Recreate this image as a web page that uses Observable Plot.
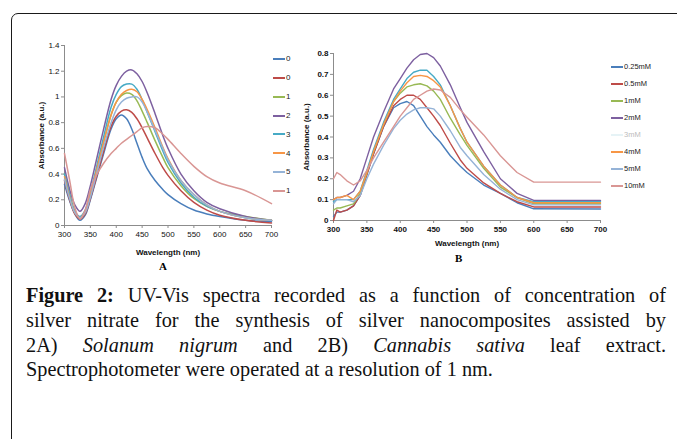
<!DOCTYPE html>
<html>
<head>
<meta charset="utf-8">
<script src="https://cdn.jsdelivr.net/npm/d3@7"></script>
<script src="https://cdn.jsdelivr.net/npm/@observablehq/plot@0.6"></script>
<style>
  body { margin:0; background:#fff; width:677px; height:439px; overflow:hidden; position:relative; font-family: Arial, "Liberation Sans", sans-serif; }
  .abs { position:absolute; }
  #frame { left:11px; top:13px; width:720px; height:480px; border:1.5px solid #1a1a1a; border-radius:7px 0 0 0; }
  .leg { position:absolute; font: 8px "Liberation Sans", Arial, sans-serif; color:#222; white-space:nowrap; }
  .leg .sw { display:inline-block; width:12px; height:2px; vertical-align:middle; margin-right:1px; }
  .panel-label { position:absolute; font: bold 11px "Liberation Serif", serif; }
  #caption { left:26px; top:283px; width:640px; font: 20.3px "Liberation Serif", "Times New Roman", serif; line-height:24.8px; color:#111; }
  #caption .ln { text-align: justify; text-align-last: justify; white-space: nowrap; }
  #caption .ln.last { text-align-last: left; }
</style>
</head>
<body>
<div id="frame" class="abs"></div>
<div id="chartA" class="abs" style="left:20px;top:35px"></div>
<div id="chartB" class="abs" style="left:300px;top:35px"></div>
<div id="legA" class="abs" style="left:273px;top:0;width:24px;height:280px"></div>
<div id="legB" class="abs" style="left:611px;top:0;width:66px;height:280px"></div>
<div class="panel-label" style="left:159px;top:260px">A</div>
<div class="panel-label" style="left:455px;top:252px">B</div>
<div id="caption" class="abs">
  <div class="ln"><b>Figure 2:</b> UV-Vis spectra recorded as a function of concentration of</div>
  <div class="ln">silver nitrate for the synthesis of silver nanocomposites assisted by</div>
  <div class="ln">2A) <i>Solanum nigrum</i> and 2B) <i>Cannabis sativa</i> leaf extract.</div>
  <div class="ln last">Spectrophotometer were operated at a resolution of 1 nm.</div>
</div>
<script>
// ---------- data ----------
const concentrations = ["0.25mM","0.5mM","1mM","2mM","3mM","4mM","5mM","10mM"];
// panel A's legend is cut by panel B in the figure: only its first characters show
const legendLabelsA = ["0","0","1","2","3","4","5","1"];
const seriesColors = ["#4A7EBB","#BE4B48","#98B954","#7D60A0","#46AAC5","#F79646","#95B3D7","#D99694"];

// Panel A (Solanum nigrum)
const wavelengthA = [300,310,320,330,340,350,360,375,390,400,410,420,430,440,450,460,475,490,500,525,550,575,600,650,700];
const absA_025 = [0.32,0.19,0.09,0.04,0.08,0.20,0.34,0.55,0.75,0.83,0.86,0.83,0.75,0.64,0.53,0.44,0.35,0.28,0.24,0.17,0.12,0.09,0.07,0.04,0.03];
const absA_05  = [0.35,0.20,0.09,0.05,0.09,0.21,0.35,0.57,0.77,0.85,0.89,0.90,0.88,0.83,0.76,0.68,0.56,0.45,0.39,0.27,0.18,0.12,0.08,0.04,0.02];
const absA_1   = [0.40,0.24,0.11,0.06,0.11,0.24,0.40,0.64,0.86,0.96,1.01,1.03,1.02,0.97,0.89,0.80,0.66,0.53,0.45,0.31,0.21,0.15,0.11,0.07,0.04];
const absA_2   = [0.45,0.28,0.16,0.11,0.17,0.31,0.48,0.74,0.98,1.09,1.16,1.20,1.21,1.18,1.12,1.03,0.87,0.70,0.60,0.40,0.27,0.18,0.13,0.07,0.04];
const absA_3   = [0.40,0.24,0.11,0.07,0.12,0.26,0.42,0.68,0.92,1.02,1.08,1.10,1.10,1.06,0.98,0.88,0.73,0.58,0.49,0.33,0.22,0.15,0.11,0.06,0.04];
const absA_4   = [0.38,0.22,0.10,0.06,0.11,0.24,0.40,0.64,0.86,0.96,1.02,1.05,1.06,1.04,0.98,0.90,0.76,0.61,0.52,0.35,0.24,0.16,0.11,0.06,0.04];
const absA_5   = [0.36,0.21,0.10,0.06,0.10,0.22,0.37,0.60,0.80,0.90,0.96,0.99,1.00,1.00,0.96,0.88,0.74,0.60,0.51,0.35,0.24,0.16,0.11,0.06,0.04];
const absA_10  = [0.56,0.35,0.14,0.05,0.12,0.28,0.38,0.48,0.56,0.60,0.64,0.67,0.70,0.73,0.76,0.77,0.76,0.71,0.67,0.56,0.46,0.38,0.33,0.27,0.17];

// Panel B (Cannabis sativa)
const wavelengthB = [300,305,310,320,330,340,350,360,375,390,400,410,420,430,440,450,460,475,490,500,525,550,575,600,700];
const absB_025 = [0.02,0.04,0.04,0.05,0.07,0.12,0.22,0.32,0.45,0.54,0.56,0.57,0.55,0.50,0.45,0.41,0.375,0.31,0.26,0.23,0.17,0.13,0.085,0.056,0.055];
const absB_05  = [0.00,0.05,0.04,0.05,0.07,0.12,0.22,0.32,0.45,0.55,0.58,0.60,0.60,0.58,0.54,0.50,0.455,0.37,0.29,0.25,0.18,0.13,0.09,0.065,0.065];
const absB_1   = [0.05,0.06,0.06,0.07,0.08,0.13,0.23,0.33,0.46,0.57,0.61,0.64,0.65,0.655,0.645,0.62,0.58,0.49,0.41,0.36,0.25,0.16,0.11,0.08,0.08];
const absB_2   = [0.10,0.11,0.11,0.12,0.14,0.20,0.30,0.40,0.52,0.63,0.68,0.73,0.77,0.795,0.80,0.78,0.74,0.65,0.54,0.47,0.33,0.20,0.13,0.096,0.096];
const absB_3   = [0.09,0.10,0.10,0.10,0.10,0.14,0.24,0.34,0.47,0.58,0.63,0.68,0.71,0.72,0.72,0.69,0.65,0.55,0.44,0.375,0.26,0.17,0.11,0.09,0.09];
const absB_4   = [0.10,0.11,0.11,0.12,0.10,0.14,0.23,0.33,0.46,0.57,0.62,0.66,0.69,0.695,0.69,0.67,0.64,0.55,0.44,0.375,0.26,0.17,0.11,0.085,0.085];
const absB_5   = [0.08,0.10,0.10,0.10,0.09,0.12,0.20,0.27,0.36,0.44,0.48,0.51,0.53,0.54,0.54,0.535,0.50,0.43,0.35,0.31,0.22,0.15,0.10,0.075,0.075];
const absB_10  = [0.20,0.23,0.22,0.19,0.17,0.19,0.24,0.30,0.375,0.45,0.50,0.54,0.58,0.60,0.62,0.63,0.625,0.59,0.53,0.495,0.41,0.31,0.23,0.184,0.184];

// Axis ticks and labels
const xTicks = [300,350,400,450,500,550,600,650,700];
const xTickLabels = ["300","350","400","450","500","550","600","650","700"];
const yTicksA = [0,0.2,0.4,0.6,0.8,1,1.2,1.4];
const yTickLabelsA = ["0","0.2","0.4","0.6","0.8","1","1.2","1.4"];
const yTicksB = [0,0.1,0.2,0.3,0.4,0.5,0.6,0.7,0.8];
const yTickLabelsB = ["0","0.1","0.2","0.3","0.4","0.5","0.6","0.7","0.8"];
const xLabel = "Wavelength (nm)";
const yLabel = "Absorbance (a.u.)";

// ---------- build ----------
function tidy(wl, arrays) {
  return arrays.flatMap((vals, i) => wl.map((w, j) => ({c: concentrations[i], w, v: vals[j]})));
}
const dataA = tidy(wavelengthA, [absA_025,absA_05,absA_1,absA_2,absA_3,absA_4,absA_5,absA_10]);
const dataB = tidy(wavelengthB, [absB_025,absB_05,absB_1,absB_2,absB_3,absB_4,absB_5,absB_10]);

function panel({data, width, height, mL, mR, mT, mB, yDomain, yTicks, yLabels, curve, sw, bold, xOff, yOff}) {
  const fw = bold ? "bold" : "normal";
  return Plot.plot({
    width, height, marginLeft: mL, marginRight: mR, marginTop: mT, marginBottom: mB,
    style: {background: "transparent", fontFamily: "Arial, 'Liberation Sans', sans-serif", fontSize: "8px", color: "#111"},
    x: {domain: [300, 700]},
    y: {domain: yDomain},
    color: {domain: concentrations, range: seriesColors},
    marks: [
      Plot.ruleX([300], {stroke: "#8c8c8c", strokeWidth: 1}),
      Plot.ruleY([yDomain[0]], {stroke: "#8c8c8c", strokeWidth: 1}),
      Plot.axisX({ticks: xTicks, tickFormat: (d) => xTickLabels[xTicks.indexOf(d)], tickSize: 3, stroke: "#8c8c8c", tickPadding: 3, fontWeight: fw, fill: "#111",
        label: xLabel, labelAnchor: "center", labelOffset: xOff, labelArrow: "none"}),
      Plot.axisY({ticks: yTicks, tickFormat: (d) => yLabels[yTicks.indexOf(d)], tickSize: 3, stroke: "#8c8c8c", tickPadding: 2, fontWeight: fw, fill: "#111",
        label: yLabel, labelAnchor: "center", labelOffset: yOff, labelArrow: "none"}),
      Plot.lineY(data, {x: "w", y: "v", z: "c", stroke: "c", strokeWidth: sw, curve})
    ]
  });
}

const plotA = panel({data: dataA, width: 272, height: 225, mL: 44, mR: 21, mT: 10, mB: 35,
  yDomain: [0, 1.4], yTicks: yTicksA, yLabels: yTickLabelsA, curve: "catmull-rom", sw: 1.5, bold: false, xOff: 29, yOff: 26});
const plotB = panel({data: dataB, width: 320, height: 215, mL: 33, mR: 20, mT: 18, mB: 30,
  yDomain: [0, 0.8], yTicks: yTicksB, yLabels: yTickLabelsB, curve: "linear", sw: 1.4, bold: true, xOff: 25, yOff: 30});
document.getElementById("chartA").append(plotA);
document.getElementById("chartB").append(plotB);

// make axis labels bold
for (const svg of [plotA, plotB]) {
  svg.querySelectorAll("g[aria-label='x-axis label'] text, g[aria-label='y-axis label'] text").forEach(t => {
    t.setAttribute("font-weight", "bold");
  });
}

// legends
function legend(el, labels, top, step, colors, fontSize) {
  labels.forEach((c, i) => {
    const d = document.createElement("div");
    d.className = "leg";
    d.style.left = "0px";
    d.style.fontSize = fontSize;
    d.style.top = (top + i * step - 5) + "px";
    d.innerHTML = `<span class="sw" style="background:${colors[i]}"></span>${c}`;
    el.append(d);
  });
}
legend(document.getElementById("legA"), legendLabelsA, 59, 18.9, seriesColors, "8px");
const legendColorsB = seriesColors.map((c, i) => concentrations[i] === "3mM" ? "#e6f3f6" : c);
legend(document.getElementById("legB"), concentrations, 67, 17, legendColorsB, "7.5px");
document.querySelectorAll("#legB .leg")[4].style.color = "#bbb";
</script>
</body>
</html>
